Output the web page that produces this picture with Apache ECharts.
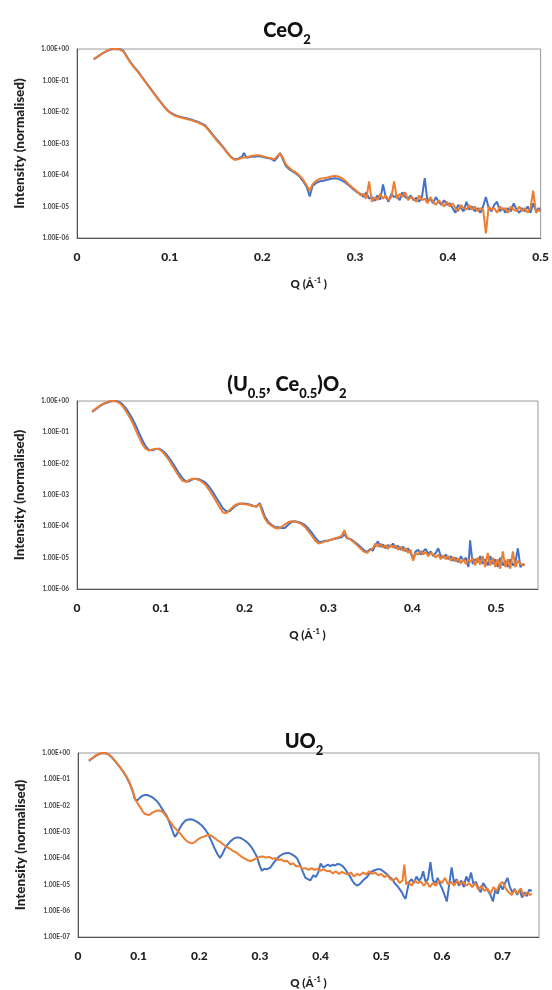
<!DOCTYPE html>
<html>
<head>
<meta charset="utf-8">
<script src="https://cdn.jsdelivr.net/npm/echarts@6/dist/echarts.min.js"></script>
<style>
html,body{margin:0;padding:0;background:#fff;}
#c{width:552px;height:990px;}
</style>
</head>
<body>
<div id="c"></div>
<script>
// Values are [Q (Å^-1), log10 of normalised intensity]
var ceo2Blue = [[0.018,-0.33],[0.022,-0.25],[0.026,-0.17],[0.03,-0.1],[0.034,-0.04],[0.038,0],[0.042,-0.01],[0.046,0],[0.05,-0.06],[0.054,-0.25],[0.058,-0.43],[0.062,-0.58],[0.066,-0.72],[0.07,-0.88],[0.074,-1.04],[0.078,-1.2],[0.082,-1.36],[0.086,-1.52],[0.09,-1.67],[0.094,-1.82],[0.098,-1.95],[0.102,-2.04],[0.106,-2.1],[0.11,-2.14],[0.114,-2.17],[0.118,-2.2],[0.122,-2.23],[0.126,-2.27],[0.13,-2.31],[0.134,-2.36],[0.138,-2.42],[0.142,-2.55],[0.146,-2.7],[0.15,-2.85],[0.154,-2.98],[0.158,-3.12],[0.162,-3.28],[0.166,-3.42],[0.17,-3.5],[0.174,-3.48],[0.178,-3.42],[0.18,-3.3],[0.183,-3.45],[0.187,-3.42],[0.192,-3.42],[0.196,-3.4],[0.2,-3.42],[0.205,-3.46],[0.209,-3.48],[0.213,-3.55],[0.216,-3.45],[0.219,-3.3],[0.222,-3.5],[0.225,-3.7],[0.228,-3.8],[0.232,-3.88],[0.236,-3.95],[0.24,-4.05],[0.244,-4.2],[0.248,-4.4],[0.251,-4.68],[0.254,-4.35],[0.258,-4.25],[0.262,-4.2],[0.266,-4.18],[0.27,-4.15],[0.274,-4.12],[0.278,-4.1],[0.282,-4.12],[0.286,-4.18],[0.29,-4.25],[0.294,-4.35],[0.298,-4.45],[0.302,-4.55],[0.306,-4.6],[0.309,-4.7],[0.312,-4.55],[0.315,-4.75],[0.318,-4.7],[0.321,-4.82],[0.324,-4.65],[0.327,-4.78],[0.33,-4.3],[0.333,-4.7],[0.336,-4.85],[0.339,-4.6],[0.342,-4.7],[0.345,-4.65],[0.348,-4.8],[0.351,-4.55],[0.354,-4.7],[0.357,-4.75],[0.36,-4.65],[0.363,-4.8],[0.366,-4.72],[0.369,-4.85],[0.372,-4.7],[0.375,-4.1],[0.378,-4.85],[0.381,-4.75],[0.384,-4.9],[0.387,-4.7],[0.39,-4.85],[0.393,-4.95],[0.396,-4.8],[0.399,-4.95],[0.402,-4.9],[0.405,-5.05],[0.408,-5.2],[0.411,-4.95],[0.414,-5.05],[0.417,-5.15],[0.42,-4.85],[0.423,-5.1],[0.426,-5.0],[0.429,-5.15],[0.432,-5.05],[0.435,-5.2],[0.438,-5.0],[0.441,-4.7],[0.444,-5.05],[0.447,-5.15],[0.45,-4.95],[0.453,-4.85],[0.456,-5.15],[0.459,-5.05],[0.462,-5.2],[0.465,-5.05],[0.468,-5.15],[0.471,-4.9],[0.474,-5.1],[0.477,-5.2],[0.48,-5.05],[0.483,-5.15],[0.486,-5.0],[0.489,-5.2],[0.492,-4.9],[0.495,-5.15],[0.498,-5.05],[0.5,-5.15]];
var ceo2Orange = [[0.018,-0.32],[0.022,-0.24],[0.026,-0.16],[0.03,-0.09],[0.034,-0.03],[0.038,0],[0.042,0],[0.046,-0.01],[0.05,-0.08],[0.054,-0.27],[0.058,-0.45],[0.062,-0.6],[0.066,-0.74],[0.07,-0.9],[0.074,-1.06],[0.078,-1.22],[0.082,-1.38],[0.086,-1.54],[0.09,-1.69],[0.094,-1.84],[0.098,-1.97],[0.102,-2.06],[0.106,-2.12],[0.11,-2.16],[0.114,-2.19],[0.118,-2.22],[0.122,-2.25],[0.126,-2.29],[0.13,-2.33],[0.134,-2.38],[0.138,-2.45],[0.142,-2.58],[0.146,-2.73],[0.15,-2.88],[0.154,-3.01],[0.158,-3.15],[0.162,-3.3],[0.166,-3.44],[0.17,-3.52],[0.174,-3.5],[0.178,-3.45],[0.18,-3.42],[0.183,-3.44],[0.187,-3.4],[0.192,-3.38],[0.196,-3.37],[0.2,-3.4],[0.205,-3.44],[0.209,-3.47],[0.213,-3.5],[0.216,-3.4],[0.219,-3.32],[0.222,-3.45],[0.225,-3.65],[0.228,-3.75],[0.232,-3.85],[0.236,-3.92],[0.24,-4.02],[0.244,-4.15],[0.248,-4.35],[0.251,-4.5],[0.254,-4.3],[0.258,-4.18],[0.262,-4.12],[0.266,-4.1],[0.27,-4.08],[0.274,-4.05],[0.278,-4.03],[0.282,-4.05],[0.286,-4.1],[0.29,-4.2],[0.294,-4.32],[0.298,-4.42],[0.302,-4.52],[0.306,-4.65],[0.309,-4.6],[0.312,-4.75],[0.315,-4.2],[0.318,-4.85],[0.321,-4.7],[0.324,-4.8],[0.327,-4.6],[0.33,-4.75],[0.333,-4.65],[0.336,-4.8],[0.339,-4.7],[0.342,-4.2],[0.345,-4.75],[0.348,-4.6],[0.351,-4.7],[0.354,-4.55],[0.357,-4.8],[0.36,-4.7],[0.363,-4.75],[0.366,-4.85],[0.369,-4.65],[0.372,-4.8],[0.375,-4.75],[0.378,-4.9],[0.381,-4.7],[0.384,-4.85],[0.387,-4.95],[0.39,-4.8],[0.393,-4.9],[0.396,-5.0],[0.399,-4.85],[0.402,-5.0],[0.405,-4.9],[0.408,-5.05],[0.411,-5.15],[0.414,-4.95],[0.417,-5.05],[0.42,-5.1],[0.423,-4.95],[0.426,-5.1],[0.429,-5.0],[0.432,-5.15],[0.435,-5.05],[0.438,-5.1],[0.441,-5.85],[0.444,-5.0],[0.447,-5.1],[0.45,-5.05],[0.453,-5.2],[0.456,-5.0],[0.459,-5.1],[0.462,-5.05],[0.465,-5.2],[0.468,-5.0],[0.471,-5.1],[0.474,-5.15],[0.477,-5.0],[0.48,-5.15],[0.483,-5.05],[0.486,-5.2],[0.489,-5.05],[0.492,-4.5],[0.495,-5.2],[0.498,-5.1],[0.5,-5.15]];

var uceBlue = [[0.018,-0.35],[0.022,-0.27],[0.026,-0.19],[0.03,-0.12],[0.034,-0.07],[0.038,-0.03],[0.042,0],[0.046,0],[0.05,-0.02],[0.054,-0.1],[0.058,-0.22],[0.062,-0.38],[0.066,-0.56],[0.07,-0.78],[0.074,-1.02],[0.078,-1.25],[0.082,-1.45],[0.086,-1.56],[0.09,-1.57],[0.094,-1.53],[0.098,-1.52],[0.102,-1.58],[0.106,-1.68],[0.11,-1.82],[0.114,-1.98],[0.118,-2.15],[0.122,-2.32],[0.126,-2.47],[0.13,-2.57],[0.134,-2.56],[0.138,-2.5],[0.142,-2.48],[0.146,-2.5],[0.15,-2.55],[0.154,-2.62],[0.158,-2.75],[0.162,-2.9],[0.166,-3.08],[0.17,-3.25],[0.174,-3.42],[0.178,-3.52],[0.182,-3.52],[0.186,-3.42],[0.19,-3.33],[0.194,-3.28],[0.198,-3.27],[0.202,-3.28],[0.206,-3.3],[0.21,-3.34],[0.214,-3.38],[0.218,-3.26],[0.221,-3.45],[0.224,-3.68],[0.228,-3.85],[0.232,-3.95],[0.236,-4.02],[0.24,-4.03],[0.244,-4.05],[0.248,-4.05],[0.252,-3.95],[0.256,-3.86],[0.26,-3.84],[0.264,-3.86],[0.268,-3.9],[0.272,-3.96],[0.276,-4.07],[0.28,-4.2],[0.284,-4.35],[0.288,-4.48],[0.292,-4.5],[0.296,-4.46],[0.3,-4.45],[0.304,-4.42],[0.308,-4.4],[0.312,-4.37],[0.316,-4.35],[0.319,-4.25],[0.322,-4.38],[0.326,-4.4],[0.33,-4.48],[0.334,-4.56],[0.338,-4.65],[0.342,-4.75],[0.346,-4.82],[0.35,-4.72],[0.353,-4.78],[0.356,-4.6],[0.359,-4.48],[0.362,-4.65],[0.365,-4.58],[0.368,-4.7],[0.371,-4.6],[0.374,-4.65],[0.377,-4.55],[0.38,-4.7],[0.383,-4.62],[0.386,-4.75],[0.389,-4.65],[0.392,-4.8],[0.395,-4.7],[0.398,-4.85],[0.401,-5.05],[0.404,-4.8],[0.407,-4.75],[0.41,-4.9],[0.413,-4.8],[0.416,-4.72],[0.419,-4.88],[0.422,-4.8],[0.425,-4.95],[0.428,-4.85],[0.431,-4.7],[0.434,-4.95],[0.437,-5.0],[0.44,-4.9],[0.443,-5.05],[0.446,-4.95],[0.449,-5.1],[0.452,-5.0],[0.455,-5.15],[0.458,-4.95],[0.461,-5.1],[0.464,-5.0],[0.467,-5.3],[0.469,-4.45],[0.472,-5.2],[0.475,-5.05],[0.478,-5.15],[0.481,-4.95],[0.484,-5.2],[0.487,-5.05],[0.49,-5.25],[0.493,-4.95],[0.496,-5.2],[0.499,-5.05],[0.502,-5.3],[0.505,-5.0],[0.508,-5.25],[0.511,-5.1],[0.514,-5.3],[0.517,-5.05],[0.52,-5.25],[0.523,-5.15],[0.526,-4.7],[0.529,-5.3],[0.532,-5.2],[0.534,-5.25]];
var uceOrange = [[0.018,-0.33],[0.022,-0.25],[0.026,-0.17],[0.03,-0.1],[0.034,-0.05],[0.038,-0.01],[0.042,0],[0.046,-0.01],[0.05,-0.05],[0.054,-0.15],[0.058,-0.3],[0.062,-0.48],[0.066,-0.68],[0.07,-0.92],[0.074,-1.16],[0.078,-1.38],[0.082,-1.53],[0.086,-1.58],[0.09,-1.55],[0.094,-1.52],[0.098,-1.54],[0.102,-1.62],[0.106,-1.75],[0.11,-1.9],[0.114,-2.07],[0.118,-2.25],[0.122,-2.42],[0.126,-2.55],[0.13,-2.58],[0.134,-2.52],[0.138,-2.48],[0.142,-2.49],[0.146,-2.53],[0.15,-2.6],[0.154,-2.7],[0.158,-2.85],[0.162,-3.02],[0.166,-3.2],[0.17,-3.38],[0.174,-3.55],[0.178,-3.58],[0.182,-3.48],[0.186,-3.38],[0.19,-3.3],[0.194,-3.27],[0.198,-3.28],[0.202,-3.3],[0.206,-3.32],[0.21,-3.36],[0.214,-3.35],[0.218,-3.3],[0.221,-3.55],[0.224,-3.75],[0.228,-3.9],[0.232,-3.98],[0.236,-4.05],[0.24,-4.07],[0.244,-4.02],[0.248,-3.94],[0.252,-3.87],[0.256,-3.84],[0.26,-3.85],[0.264,-3.88],[0.268,-3.93],[0.272,-4.02],[0.276,-4.15],[0.28,-4.3],[0.284,-4.45],[0.288,-4.55],[0.292,-4.52],[0.296,-4.48],[0.3,-4.45],[0.304,-4.42],[0.308,-4.38],[0.312,-4.35],[0.316,-4.3],[0.319,-4.12],[0.322,-4.35],[0.326,-4.42],[0.33,-4.5],[0.334,-4.6],[0.338,-4.7],[0.342,-4.8],[0.346,-4.85],[0.35,-4.75],[0.353,-4.7],[0.356,-4.55],[0.359,-4.65],[0.362,-4.55],[0.365,-4.68],[0.368,-4.6],[0.371,-4.72],[0.374,-4.6],[0.377,-4.68],[0.38,-4.6],[0.383,-4.75],[0.386,-4.65],[0.389,-4.78],[0.392,-4.7],[0.395,-4.85],[0.398,-4.75],[0.401,-5.1],[0.404,-4.85],[0.407,-4.9],[0.41,-4.78],[0.413,-4.9],[0.416,-4.82],[0.419,-4.95],[0.422,-4.85],[0.425,-4.9],[0.428,-5.0],[0.431,-4.9],[0.434,-5.05],[0.437,-4.92],[0.44,-5.05],[0.443,-4.95],[0.446,-5.1],[0.449,-4.98],[0.452,-5.12],[0.455,-5.02],[0.458,-5.18],[0.461,-5.05],[0.464,-5.2],[0.467,-5.05],[0.469,-5.15],[0.472,-5.0],[0.475,-5.25],[0.478,-5.0],[0.481,-5.22],[0.484,-4.95],[0.487,-5.3],[0.49,-4.85],[0.493,-5.25],[0.496,-5.0],[0.499,-5.3],[0.502,-5.05],[0.505,-5.35],[0.508,-4.8],[0.511,-5.3],[0.514,-5.05],[0.517,-5.35],[0.52,-4.8],[0.523,-5.3],[0.526,-5.1],[0.529,-5.2],[0.532,-5.25],[0.534,-5.2]];

var uo2Blue = [[0.018,-0.3],[0.024,-0.2],[0.03,-0.1],[0.036,-0.03],[0.04,0],[0.045,-0.01],[0.05,-0.05],[0.055,-0.15],[0.06,-0.28],[0.065,-0.42],[0.07,-0.57],[0.075,-0.73],[0.08,-0.92],[0.085,-1.15],[0.09,-1.45],[0.094,-1.77],[0.098,-1.8],[0.102,-1.7],[0.106,-1.63],[0.11,-1.6],[0.114,-1.6],[0.118,-1.63],[0.122,-1.68],[0.126,-1.75],[0.13,-1.83],[0.134,-1.95],[0.138,-2.1],[0.142,-2.25],[0.146,-2.38],[0.15,-2.6],[0.154,-2.85],[0.158,-3.1],[0.16,-3.19],[0.164,-3.05],[0.168,-2.85],[0.172,-2.7],[0.177,-2.57],[0.182,-2.53],[0.186,-2.52],[0.19,-2.54],[0.195,-2.6],[0.2,-2.68],[0.205,-2.78],[0.21,-2.92],[0.215,-3.1],[0.22,-3.35],[0.225,-3.62],[0.23,-3.85],[0.234,-3.99],[0.238,-3.85],[0.242,-3.65],[0.246,-3.5],[0.251,-3.37],[0.256,-3.27],[0.26,-3.22],[0.264,-3.21],[0.268,-3.23],[0.273,-3.3],[0.278,-3.38],[0.282,-3.47],[0.287,-3.62],[0.291,-3.78],[0.295,-3.95],[0.299,-4.25],[0.303,-4.48],[0.307,-4.4],[0.312,-4.42],[0.317,-4.36],[0.322,-4.2],[0.327,-4.05],[0.332,-3.93],[0.337,-3.85],[0.342,-3.81],[0.347,-3.8],[0.352,-3.85],[0.357,-3.92],[0.361,-4.0],[0.366,-4.25],[0.371,-4.54],[0.375,-4.75],[0.379,-4.8],[0.383,-4.85],[0.388,-4.65],[0.392,-4.72],[0.396,-4.55],[0.4,-4.2],[0.404,-4.35],[0.408,-4.3],[0.412,-4.25],[0.416,-4.3],[0.42,-4.25],[0.424,-4.28],[0.428,-4.22],[0.432,-4.24],[0.436,-4.3],[0.44,-4.4],[0.444,-4.55],[0.448,-4.67],[0.452,-4.85],[0.456,-4.98],[0.46,-5.04],[0.464,-5.0],[0.468,-4.9],[0.472,-4.8],[0.476,-4.73],[0.48,-4.6],[0.485,-4.5],[0.49,-4.45],[0.494,-4.42],[0.498,-4.42],[0.502,-4.48],[0.506,-4.55],[0.51,-4.62],[0.514,-4.73],[0.518,-4.8],[0.522,-4.95],[0.526,-5.05],[0.53,-5.17],[0.534,-5.3],[0.537,-5.45],[0.54,-5.55],[0.543,-5.2],[0.546,-4.9],[0.55,-4.8],[0.554,-4.95],[0.558,-4.7],[0.562,-4.85],[0.566,-4.75],[0.569,-4.5],[0.573,-4.9],[0.577,-4.8],[0.581,-4.15],[0.585,-4.85],[0.589,-4.95],[0.593,-4.75],[0.597,-5.0],[0.601,-5.2],[0.605,-5.45],[0.608,-5.65],[0.612,-5.0],[0.616,-4.35],[0.62,-4.95],[0.624,-4.8],[0.628,-5.05],[0.632,-4.85],[0.636,-5.1],[0.64,-4.7],[0.644,-4.9],[0.648,-4.55],[0.652,-5.0],[0.656,-4.9],[0.66,-5.15],[0.664,-5.3],[0.668,-4.95],[0.672,-5.1],[0.676,-5.25],[0.68,-5.4],[0.684,-5.65],[0.688,-5.2],[0.692,-5.35],[0.696,-5.0],[0.7,-5.2],[0.704,-4.95],[0.708,-4.75],[0.712,-5.1],[0.716,-5.3],[0.72,-5.17],[0.724,-5.4],[0.728,-5.2],[0.732,-5.5],[0.736,-5.3],[0.74,-5.45],[0.744,-5.2],[0.748,-5.25]];
var uo2Orange = [[0.018,-0.28],[0.024,-0.18],[0.03,-0.08],[0.036,-0.02],[0.04,0],[0.045,-0.01],[0.05,-0.05],[0.055,-0.14],[0.06,-0.27],[0.065,-0.41],[0.07,-0.56],[0.075,-0.72],[0.08,-0.9],[0.085,-1.12],[0.09,-1.42],[0.094,-1.75],[0.098,-1.9],[0.102,-2.05],[0.106,-2.2],[0.11,-2.32],[0.113,-2.38],[0.117,-2.36],[0.121,-2.3],[0.125,-2.24],[0.129,-2.2],[0.133,-2.19],[0.137,-2.2],[0.141,-2.27],[0.145,-2.4],[0.149,-2.52],[0.153,-2.65],[0.157,-2.78],[0.161,-2.88],[0.165,-2.98],[0.169,-3.08],[0.173,-3.2],[0.177,-3.3],[0.181,-3.38],[0.185,-3.42],[0.189,-3.43],[0.193,-3.38],[0.197,-3.3],[0.201,-3.24],[0.205,-3.2],[0.209,-3.17],[0.213,-3.13],[0.218,-3.12],[0.222,-3.18],[0.226,-3.25],[0.23,-3.32],[0.234,-3.37],[0.238,-3.45],[0.242,-3.52],[0.246,-3.58],[0.25,-3.64],[0.254,-3.7],[0.258,-3.75],[0.262,-3.8],[0.266,-3.88],[0.27,-3.95],[0.275,-4.02],[0.28,-4.08],[0.284,-4.11],[0.288,-4.08],[0.292,-4.03],[0.296,-3.98],[0.3,-3.95],[0.305,-3.94],[0.31,-3.98],[0.315,-3.95],[0.32,-4.02],[0.325,-4.0],[0.33,-4.07],[0.335,-4.05],[0.34,-4.12],[0.345,-4.1],[0.35,-4.24],[0.355,-4.2],[0.36,-4.32],[0.365,-4.3],[0.37,-4.4],[0.375,-4.38],[0.38,-4.45],[0.385,-4.38],[0.39,-4.45],[0.395,-4.4],[0.4,-4.48],[0.405,-4.42],[0.41,-4.5],[0.415,-4.48],[0.42,-4.58],[0.425,-4.5],[0.43,-4.6],[0.435,-4.52],[0.44,-4.58],[0.445,-4.62],[0.45,-4.55],[0.455,-4.7],[0.46,-4.6],[0.465,-4.65],[0.47,-4.55],[0.475,-4.62],[0.48,-4.5],[0.485,-4.6],[0.49,-4.55],[0.495,-4.65],[0.5,-4.6],[0.505,-4.72],[0.51,-4.65],[0.515,-4.8],[0.52,-4.85],[0.525,-4.75],[0.53,-4.95],[0.535,-4.85],[0.538,-4.25],[0.541,-5.0],[0.545,-4.9],[0.55,-5.05],[0.555,-4.85],[0.56,-4.95],[0.565,-4.88],[0.57,-5.05],[0.575,-4.9],[0.58,-5.1],[0.585,-4.95],[0.59,-5.05],[0.595,-4.85],[0.6,-4.95],[0.605,-4.75],[0.61,-5.0],[0.615,-4.9],[0.62,-5.05],[0.625,-4.85],[0.63,-5.0],[0.635,-4.9],[0.64,-5.05],[0.645,-4.95],[0.65,-5.1],[0.655,-4.95],[0.66,-5.2],[0.665,-5.05],[0.67,-5.25],[0.675,-5.15],[0.68,-5.35],[0.685,-5.1],[0.69,-5.25],[0.695,-5.0],[0.7,-4.9],[0.705,-5.15],[0.71,-5.3],[0.715,-5.4],[0.72,-5.2],[0.725,-5.35],[0.73,-5.15],[0.735,-5.45],[0.74,-5.3],[0.745,-5.4],[0.748,-5.35]];

var panelTitles = ['{t|CeO}{s|2}', '{t|(U}{s|0.5}{t|, Ce}{s|0.5}{t|)O}{s|2}', '{t|UO}{s|2}'];
var yTitle = 'Intensity (normalised)';
var xTitle = '{a|Q (Å}{u|-1}{a| )}';
var xMax = [0.5, 0.55, 0.76];
var yMinExp = [-6, -6, -7];

var FONT = 'Lato, "Open Sans", sans-serif';
var BLUE = '#4472C4', ORANGE = '#ED7D31';

function toPts(arr){ return arr.map(function(p){ return [p[0], Math.pow(10, p[1])]; }); }
function fmtE(v){
  var e = Math.round(Math.log10(v));
  var a = Math.abs(e);
  return '1.00E' + (e < 0 ? '-' : '+') + (a < 10 ? '0' : '') + a;
}

var grids = [
  {left: 77, top: 49, width: 467, height: 189},
  {left: 77, top: 401, width: 461, height: 188},
  {left: 78, top: 753, width: 461, height: 189}
];
var titlePos = [{x: 282, y: 25}, {x: 282, y: 379}, {x: 299, y: 736}];
var seriesData = [[ceo2Blue, ceo2Orange], [uceBlue, uceOrange], [uo2Blue, uo2Orange]];

var option = {
  animation: false,
  backgroundColor: '#fff',
  title: [], grid: [], xAxis: [], yAxis: [], series: []
};

for (var i = 0; i < 3; i++) {
  option.title.push({
    text: panelTitles[i], left: titlePos[i].x, top: titlePos[i].y - 13, textAlign: 'center',
    textStyle: {
      rich: {
        t: {fontFamily: FONT, fontSize: 20, fontWeight: 900, color: '#111', verticalAlign: 'bottom', lineHeight: 24},
        s: {fontFamily: FONT, fontSize: 13, fontWeight: 900, color: '#111', verticalAlign: 'bottom', padding: [0,0,-5,0], lineHeight: 24}
      }
    }
  });
  option.grid.push(Object.assign({show: true, borderColor: '#9a9a9a', borderWidth: 1, containLabel: false}, grids[i]));
  option.xAxis.push({
    type: 'value', gridIndex: i, min: 0, max: xMax[i], interval: 0.1,
    name: xTitle, nameLocation: 'middle', nameGap: 39,
    nameTextStyle: {rich: {
      a: {fontFamily: FONT, fontSize: 11.5, fontWeight: 900, color: '#222'},
      u: {fontFamily: FONT, fontSize: 7.5, fontWeight: 900, color: '#222', padding: [0,0,6,0]}
    }},
    axisLine: {show: true, lineStyle: {color: '#555', width: 1}},
    axisTick: {show: false},
    splitLine: {show: false},
    axisLabel: {
      fontFamily: FONT, fontSize: 12, fontWeight: 900, color: '#222', margin: 13,
      showMaxLabel: i === 0,
      formatter: function(v){ return String(Math.round(v * 10) / 10); }
    }
  });
  option.yAxis.push({
    type: 'log', logBase: 10, gridIndex: i, min: Math.pow(10, yMinExp[i]), max: 1,
    splitNumber: -yMinExp[i],
    name: yTitle, nameLocation: 'middle', nameGap: 50,
    nameTextStyle: {fontFamily: FONT, fontSize: 13.5, fontWeight: 900, color: '#222'},
    axisLine: {show: true, lineStyle: {color: '#555', width: 1}},
    axisTick: {show: false},
    splitLine: {show: false},
    minorTick: {show: false},
    axisLabel: {fontFamily: FONT, fontSize: 6.5, fontWeight: 'bold', color: '#444', margin: 8, formatter: fmtE}
  });
  option.series.push({
    type: 'line', xAxisIndex: i, yAxisIndex: i, data: toPts(seriesData[i][0]),
    showSymbol: false, lineStyle: {color: BLUE, width: 2}, itemStyle: {color: BLUE}, z: 2
  });
  option.series.push({
    type: 'line', xAxisIndex: i, yAxisIndex: i, data: toPts(seriesData[i][1]),
    showSymbol: false, lineStyle: {color: ORANGE, width: 2}, itemStyle: {color: ORANGE}, z: 3
  });
}

var chart = echarts.init(document.getElementById('c'), null, {renderer: 'canvas'});
chart.setOption(option);
</script>
</body>
</html>
